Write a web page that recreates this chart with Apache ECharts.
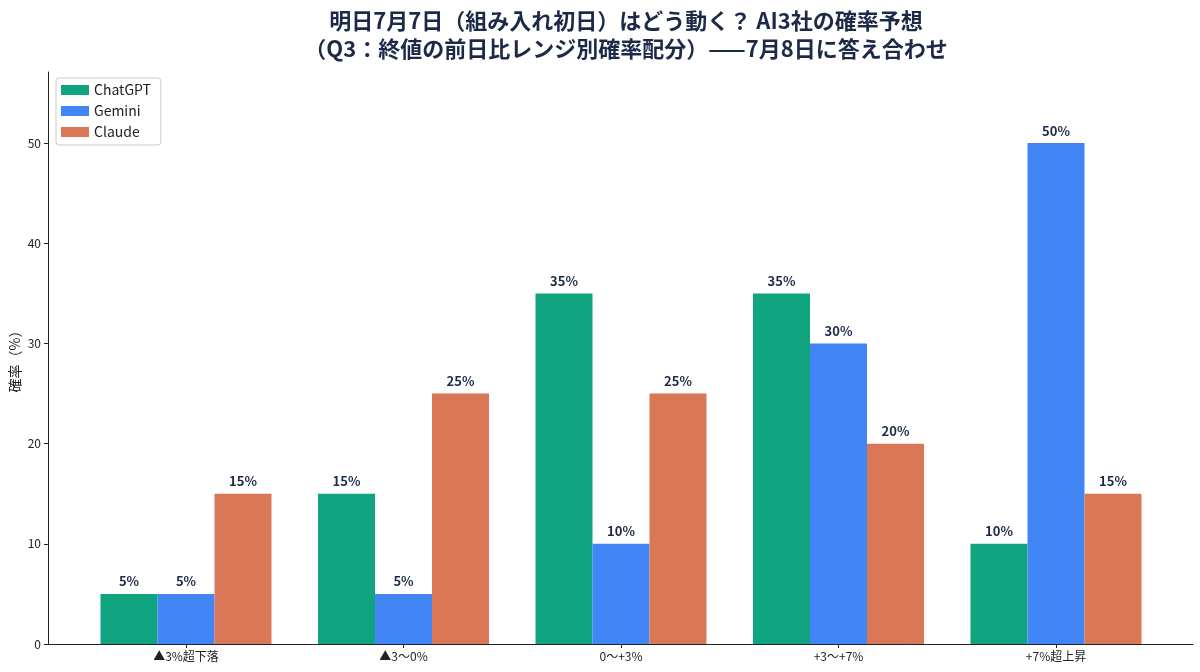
<!DOCTYPE html>
<html>
<head>
<meta charset="utf-8">
<script src="https://cdn.jsdelivr.net/npm/echarts@6/dist/echarts.min.js"></script>
<style>
  html, body { margin: 0; padding: 0; background: #fff; }
  #chart { width: 1200px; height: 672px; }
</style>
</head>
<body>
<div id="chart"></div>
<script>
const categories = ['▲3%超下落', '▲3〜0%', '0〜+3%', '+3〜+7%', '+7%超上昇'];
const chatgptData = [5, 15, 35, 35, 10];
const geminiData = [5, 5, 10, 30, 50];
const claudeData = [15, 25, 25, 20, 15];
const yTicks = [0, 10, 20, 30, 40, 50];

const FONT = '"Noto Sans CJK JP", "Noto Sans", sans-serif';
const textDark = '#1c2a48';

const chart = echarts.init(document.getElementById('chart'));

// 値ラベル（バー上部）
function barLabel() {
    return {
        show: true,
        position: 'top',
        distance: 6,
        formatter: p => p.value + '%',
        fontFamily: FONT,
        fontSize: 13,
        fontWeight: 'bold',
        color: textDark
    };
}

const option = {
    backgroundColor: '#fff',
    textStyle: { fontFamily: FONT },
    title: {
        text: '明日7月7日（組み入れ初日）はどう動く？ AI3社の確率予想\n（Q3：終値の前日比レンジ別確率配分）——7月8日に答え合わせ',
        left: 621,
        textAlign: 'center',
        top: 2,
        textStyle: {
            fontFamily: FONT,
            fontSize: 22,
            fontWeight: 'bold',
            color: textDark,
            lineHeight: 28
        }
    },
    legend: {
        data: ['ChatGPT', 'Gemini', 'Claude'],
        orient: 'vertical',
        left: 56,
        top: 78,
        padding: [5, 10, 6, 5],
        itemWidth: 28,
        itemHeight: 10,
        itemGap: 7,
        icon: 'rect',
        borderColor: '#cccccc',
        borderWidth: 1,
        borderRadius: 3,
        backgroundColor: '#fff',
        textStyle: { fontFamily: FONT, fontSize: 14, color: '#222' }
    },
    grid: [
        { left: 48, right: 7, top: 72, bottom: 28, outerBoundsMode: 'none' },
        { left: 77.25, right: 35.25, top: 72, bottom: 28, outerBoundsMode: 'none' }
    ],
    xAxis: [
        {
            gridIndex: 0,
            type: 'value',
            min: 0,
            max: 1,
            axisLine: { show: true, lineStyle: { color: '#222', width: 1 } },
            axisTick: { show: false },
            axisLabel: { show: false },
            splitLine: { show: false }
        },
        {
            gridIndex: 1,
            type: 'category',
            data: categories,
            axisLine: { show: false },
            axisTick: { show: true, alignWithLabel: true, length: 4, lineStyle: { color: '#222' } },
            axisLabel: { fontFamily: FONT, fontSize: 12, color: '#222', margin: 6 },
            splitLine: { show: false }
        }
    ],
    yAxis: [
        {
            gridIndex: 0,
            type: 'value',
            min: 0,
            max: 57.1,
            name: '確率（%）',
            nameLocation: 'middle',
            nameGap: 26,
            nameMoveOverlap: false,
            nameTextStyle: { fontFamily: FONT, fontSize: 14, color: '#222' },
            axisLine: { show: true, lineStyle: { color: '#222', width: 1 } },
            axisTick: { show: true, length: 4, customValues: yTicks, lineStyle: { color: '#222' } },
            axisLabel: { customValues: yTicks, fontFamily: FONT, fontSize: 12, color: '#222', margin: 7 },
            splitLine: { show: false }
        },
        {
            gridIndex: 1,
            type: 'value',
            min: 0,
            max: 57.1,
            show: false,
            splitLine: { show: false }
        }
    ],
    series: [
        {
            name: 'ChatGPT',
            type: 'bar',
            xAxisIndex: 1,
            yAxisIndex: 1,
            data: chatgptData,
            barWidth: 57,
            barGap: '0%',
            itemStyle: { color: '#10a37f' },
            label: barLabel()
        },
        {
            name: 'Gemini',
            type: 'bar',
            xAxisIndex: 1,
            yAxisIndex: 1,
            data: geminiData,
            barWidth: 57,
            barGap: '0%',
            itemStyle: { color: '#4285f4' },
            label: barLabel()
        },
        {
            name: 'Claude',
            type: 'bar',
            xAxisIndex: 1,
            yAxisIndex: 1,
            data: claudeData,
            barWidth: 57,
            barGap: '0%',
            itemStyle: { color: '#d97757' },
            label: barLabel()
        }
    ]
};

chart.setOption(option);
</script>
</body>
</html>
